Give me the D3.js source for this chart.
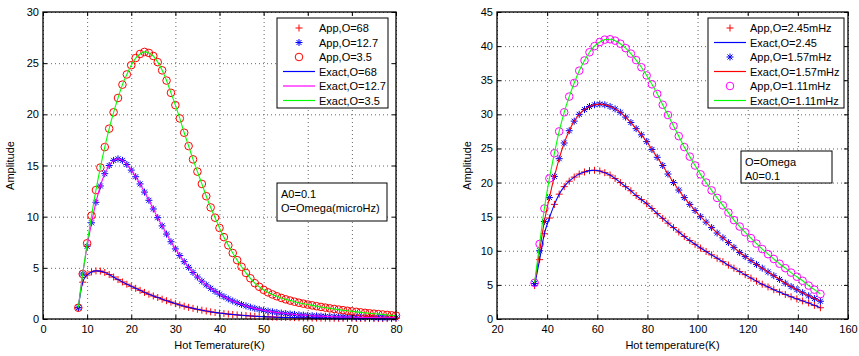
<!DOCTYPE html>
<html>
<head>
<meta charset="utf-8">
<script src="https://cdn.jsdelivr.net/npm/d3@7"></script>
<style>
  body { margin: 0; background: #fff; }
  svg { font-family: "Liberation Sans", Arial, sans-serif; }
</style>
</head>
<body>
<svg id="chart" width="859" height="356"></svg>
<script>
// ---- left panel data (Hot temperature in K, amplitude) ----
const leftT = [
  8, 9, 10, 11, 12, 13, 14, 15, 16, 17,
  18, 19, 20, 21, 22, 23, 24, 25, 26, 27,
  28, 29, 30, 31, 32, 33, 34, 35, 36, 37,
  38, 39, 40, 41, 42, 43, 44, 45, 46, 47,
  48, 49, 50, 51, 52, 53, 54, 55, 56, 57,
  58, 59, 60, 61, 62, 63, 64, 65, 66, 67,
  68, 69, 70, 71, 72, 73, 74, 75, 76, 77,
  78, 79, 80
];
const leftO68 = [
  1.1, 3.6, 4.3, 4.6, 4.7, 4.68, 4.55, 4.35, 4.1, 3.85,
  3.62, 3.4, 3.2, 3.0, 2.8, 2.6, 2.42, 2.25, 2.1, 1.94,
  1.79, 1.65, 1.5, 1.37, 1.25, 1.14, 1.04, 0.95, 0.86, 0.78,
  0.7, 0.64, 0.58, 0.53, 0.48, 0.44, 0.4, 0.36, 0.33, 0.3,
  0.27, 0.25, 0.23, 0.21, 0.19, 0.17, 0.16, 0.15, 0.14, 0.13,
  0.12, 0.11, 0.1, 0.09, 0.09, 0.08, 0.08, 0.07, 0.07, 0.07,
  0.06, 0.06, 0.06, 0.05, 0.05, 0.05, 0.05, 0.04, 0.04, 0.04,
  0.04, 0.04, 0.04
];
const leftO127 = [
  1.1, 4.4, 7.1, 9.4, 11.4, 13.0, 14.2, 15.0, 15.5, 15.65,
  15.5, 15.1, 14.55, 13.9, 13.2, 12.4, 11.6, 10.75, 9.9, 9.1,
  8.3, 7.55, 6.85, 6.2, 5.6, 5.05, 4.55, 4.1, 3.7, 3.33,
  3.0, 2.7, 2.43, 2.18, 1.96, 1.76, 1.58, 1.42, 1.28, 1.15,
  1.04, 0.94, 0.85, 0.77, 0.7, 0.64, 0.58, 0.53, 0.49, 0.45,
  0.41, 0.38, 0.35, 0.32, 0.3, 0.28, 0.26, 0.24, 0.22, 0.21,
  0.2, 0.19, 0.18, 0.17, 0.16, 0.15, 0.14, 0.13, 0.13, 0.12,
  0.12, 0.11, 0.11
];
const leftO35 = [
  1.1, 4.4, 7.4, 10.1, 12.6, 14.8, 16.8, 18.6, 20.2, 21.6,
  22.9, 23.9, 24.8, 25.5, 25.9, 26.1, 26.0, 25.7, 25.1, 24.3,
  23.3, 22.1, 20.9, 19.6, 18.2, 16.9, 15.6, 14.4, 13.2, 12.0,
  10.9, 9.9, 8.9, 8.0, 7.2, 6.45, 5.75, 5.1, 4.5, 3.98,
  3.5, 3.15, 2.85, 2.6, 2.4, 2.22, 2.06, 1.92, 1.8, 1.69,
  1.59, 1.5, 1.41, 1.33, 1.25, 1.18, 1.11, 1.04, 0.98, 0.92,
  0.86, 0.8, 0.75, 0.7, 0.65, 0.6, 0.56, 0.52, 0.48, 0.44,
  0.4, 0.36, 0.33
];

// ---- right panel data ----
const rightT = [
  35.0, 37.0, 38.9, 40.9, 42.9, 44.8, 46.8, 48.8, 50.8, 52.8, 54.9,
  56.9, 58.9, 61.0, 63.0, 65.1, 67.1, 69.2, 71.3, 73.4, 75.5,
  77.6, 79.7, 81.8, 83.9, 86.1, 88.2, 90.4, 92.5, 94.7, 96.9,
  99.0, 101.2, 103.4, 105.6, 107.8, 110.1, 112.3, 114.5, 116.8, 119.0,
  121.3, 123.5, 125.8, 128.1, 130.4, 132.7, 135.0, 137.3, 139.6, 141.9, 144.3, 146.6, 149.0
];
const rightO245 = [
  4.9, 8.7, 12.5, 14.8, 16.8, 18.3, 19.4, 20.2, 20.8, 21.25, 21.55,
  21.75, 21.8, 21.7, 21.45, 21.1, 20.6, 20.0, 19.4, 18.8, 18.1,
  17.5, 16.9, 16.2, 15.45, 14.75, 14.05, 13.4, 12.75, 12.1, 11.5,
  10.95, 10.4, 9.9, 9.4, 8.9, 8.4, 7.9, 7.45, 6.95, 6.5,
  6.0, 5.55, 5.1, 4.7, 4.3, 3.95, 3.6, 3.25, 2.95, 2.65, 2.35, 2.0, 1.65
];
const rightO157 = [
  5.2, 10.0, 14.3, 17.8, 20.9, 23.5, 25.8, 27.6, 29.0, 30.0, 30.7,
  31.15, 31.4, 31.5, 31.4, 31.15, 30.8, 30.3, 29.6, 28.8, 27.9,
  27.0, 26.0, 24.85, 23.7, 22.5, 21.25, 20.0, 18.9, 17.8, 16.8,
  15.9, 15.0, 14.2, 13.4, 12.6, 11.9, 11.2, 10.5, 9.75, 9.15,
  8.55, 8.0, 7.45, 6.9, 6.35, 5.8, 5.25, 4.75, 4.3, 3.85, 3.4, 3.0, 2.6
];
const rightO111 = [
  5.3, 11.0, 16.2, 20.6, 24.3, 27.5, 30.3, 32.6, 34.6, 36.4, 37.9,
  39.1, 40.0, 40.6, 40.95, 41.0, 40.8, 40.35, 39.7, 38.9, 37.95,
  36.9, 35.7, 34.4, 33.0, 31.4, 29.9, 28.3, 26.8, 25.2, 23.8,
  22.5, 21.2, 20.0, 18.85, 17.75, 16.65, 15.6, 14.5, 13.55, 12.7,
  11.85, 11.05, 10.25, 9.5, 8.8, 8.1, 7.45, 6.8, 6.2, 5.6, 4.9, 4.3, 3.65
];

// ---- tick labels ----
const leftXTicks = [0, 10, 20, 30, 40, 50, 60, 70, 80];
const leftYTicks = [0, 5, 10, 15, 20, 25, 30];
const rightXTicks = [20, 40, 60, 80, 100, 120, 140, 160];
const rightYTicks = [0, 5, 10, 15, 20, 25, 30, 35, 40, 45];

const RED = "#ff0000", BLUE = "#0000ff", MAGENTA = "#ff00ff", GREEN = "#00ff00";

const svg = d3.select("#chart");

// matlab style marker shapes
function markerPath(type) {
  if (type === "plus") return "M-3.5,0H3.5M0,-3.5V3.5";
  if (type === "star") return "M-3.5,0H3.5M0,-3.5V3.5M-2.5,-2.5L2.5,2.5M-2.5,2.5L2.5,-2.5";
  return null;
}

function drawMarker(sel, type, color) {
  if (type === "circle") {
    sel.append("circle").attr("r", 3.8).attr("fill", "none")
      .attr("stroke", color).attr("stroke-width", 1);
  } else {
    sel.append("path").attr("d", markerPath(type)).attr("fill", "none")
      .attr("stroke", color).attr("stroke-width", 1);
  }
}

function drawPanel(p) {
  const x = d3.scaleLinear().domain(p.xDomain).range([p.left, p.right]);
  const y = d3.scaleLinear().domain(p.yDomain).range([p.bottom, p.top]);
  const g = svg.append("g");
  const h = p.bottom - p.top, w = p.right - p.left;

  // dotted grid
  g.append("g").attr("transform", `translate(0,${p.bottom})`)
    .call(d3.axisBottom(x).tickValues(p.xTicks).tickSize(-h).tickFormat(""))
    .call(s => s.select(".domain").remove())
    .selectAll("line").attr("stroke", "#666").attr("stroke-dasharray", "1,3");
  g.append("g").attr("transform", `translate(${p.left},0)`)
    .call(d3.axisLeft(y).tickValues(p.yTicks).tickSize(-w).tickFormat(""))
    .call(s => s.select(".domain").remove())
    .selectAll("line").attr("stroke", "#666").attr("stroke-dasharray", "1,3");

  // app markers
  p.series.forEach(s => {
    const pts = p.xs.map((t, i) => [t, s.values[i]]);
    g.append("g").selectAll("g")
      .data(pts)
      .join("g")
      .attr("transform", d => `translate(${x(d[0])},${y(d[1])})`)
      .each(function () { drawMarker(d3.select(this), s.marker, s.markerColor); });
  });

  // exact lines
  const line = d3.line().x(d => x(d[0])).y(d => y(d[1])).curve(d3.curveMonotoneX);
  p.series.forEach(s => {
    const pts = p.xs.map((t, i) => [t, s.values[i]]);
    g.append("path").datum(pts)
      .attr("fill", "none")
      .attr("stroke", s.lineColor)
      .attr("stroke-width", 1.1)
      .attr("d", line);
  });

  // axes with inward ticks
  const bottomAxis = g.append("g").attr("transform", `translate(0,${p.bottom})`)
    .call(d3.axisBottom(x).tickValues(p.xTicks).tickSizeInner(-4).tickSizeOuter(0).tickPadding(6));
  const leftAxis = g.append("g").attr("transform", `translate(${p.left},0)`)
    .call(d3.axisLeft(y).tickValues(p.yTicks).tickSizeInner(-4).tickSizeOuter(0).tickPadding(4));
  g.append("g").attr("transform", `translate(0,${p.top})`)
    .call(d3.axisTop(x).tickValues(p.xTicks).tickSizeInner(-4).tickSizeOuter(0).tickFormat(""));
  g.append("g").attr("transform", `translate(${p.right},0)`)
    .call(d3.axisRight(y).tickValues(p.yTicks).tickSizeInner(-4).tickSizeOuter(0).tickFormat(""));
  g.selectAll(".domain").remove();
  g.selectAll(".tick text").attr("font-size", 11).attr("fill", "#000")
    .attr("font-family", "Liberation Sans, Arial, sans-serif");
  g.selectAll(".tick line").filter(function () { return !this.getAttribute("stroke-dasharray"); })
    .attr("stroke", "#000");

  g.append("rect")
    .attr("x", p.left).attr("y", p.top)
    .attr("width", w).attr("height", h)
    .attr("fill", "none").attr("stroke", "#000").attr("stroke-width", 1.3);

  // axis titles
  g.append("text")
    .attr("x", (p.left + p.right) / 2).attr("y", p.bottom + 30)
    .attr("text-anchor", "middle").attr("font-size", 11)
    .text(p.xLabel);
  g.append("text")
    .attr("transform", `translate(${p.yLabelX},${(p.top + p.bottom) / 2}) rotate(-90)`)
    .attr("text-anchor", "middle").attr("font-size", 11)
    .text("Amplitude");

  // legend
  const lg = g.append("g").attr("transform", `translate(${p.legend.x},${p.legend.y})`);
  lg.append("rect").attr("width", p.legend.w).attr("height", p.legend.h)
    .attr("fill", "#fff").attr("stroke", "#000").attr("stroke-width", 1);
  p.legend.items.forEach((it, i) => {
    const row = lg.append("g").attr("transform", `translate(0,${10 + i * 14.5})`);
    if (it.marker) {
      const m = row.append("g").attr("transform", "translate(22,0)");
      drawMarker(m, it.marker, it.color);
    } else {
      row.append("line").attr("x1", 6).attr("x2", 38)
        .attr("stroke", it.color).attr("stroke-width", 1.2);
    }
    row.append("text").attr("x", 42).attr("y", 4).attr("font-size", 11).text(it.label);
  });

  // note box
  const nb = g.append("g").attr("transform", `translate(${p.note.x},${p.note.y})`);
  nb.append("rect").attr("width", p.note.w).attr("height", p.note.h)
    .attr("fill", "#fff").attr("stroke", "#000").attr("stroke-width", 1);
  p.note.lines.forEach((t, i) => {
    nb.append("text").attr("x", 4).attr("y", 15 + i * 13.5).attr("font-size", 11).text(t);
  });
}

drawPanel({
  left: 43, right: 396, top: 12, bottom: 319,
  xDomain: [0, 80], yDomain: [0, 30],
  xTicks: leftXTicks, yTicks: leftYTicks,
  xs: leftT,
  series: [
    { values: leftO68, marker: "plus", markerColor: RED, lineColor: BLUE },
    { values: leftO127, marker: "star", markerColor: BLUE, lineColor: MAGENTA },
    { values: leftO35, marker: "circle", markerColor: RED, lineColor: GREEN }
  ],
  xLabel: "Hot Temerature(K)", yLabelX: 14,
  legend: {
    x: 277, y: 18, w: 111, h: 90,
    items: [
      { marker: "plus", color: RED, label: "App,O=68" },
      { marker: "star", color: BLUE, label: "App,O=12.7" },
      { marker: "circle", color: RED, label: "App,O=3.5" },
      { color: BLUE, label: "Exact,O=68" },
      { color: MAGENTA, label: "Exact,O=12.7" },
      { color: GREEN, label: "Exact,O=3.5" }
    ]
  },
  note: { x: 277, y: 183, w: 110, h: 38, lines: ["A0=0.1", "O=Omega(microHz)"] }
});

drawPanel({
  left: 497, right: 848, top: 12, bottom: 319,
  xDomain: [20, 160], yDomain: [0, 45],
  xTicks: rightXTicks, yTicks: rightYTicks,
  xs: rightT,
  series: [
    { values: rightO245, marker: "plus", markerColor: RED, lineColor: BLUE },
    { values: rightO157, marker: "star", markerColor: BLUE, lineColor: RED },
    { values: rightO111, marker: "circle", markerColor: MAGENTA, lineColor: GREEN }
  ],
  xLabel: "Hot temperature(K)", yLabelX: 471,
  legend: {
    x: 708, y: 18, w: 136, h: 90,
    items: [
      { marker: "plus", color: RED, label: "App,O=2.45mHz" },
      { color: BLUE, label: "Exact,O=2.45" },
      { marker: "star", color: BLUE, label: "App,O=1.57mHz" },
      { color: RED, label: "Exact,O=1.57mHz" },
      { marker: "circle", color: MAGENTA, label: "App,O=1.11mHz" },
      { color: GREEN, label: "Exact,O=1.11mHz" }
    ]
  },
  note: { x: 741, y: 151, w: 91, h: 32, lines: ["O=Omega", "A0=0.1"] }
});
</script>
</body>
</html>
